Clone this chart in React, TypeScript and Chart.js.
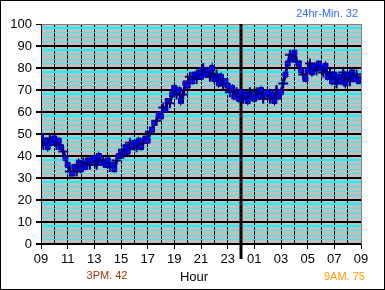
import React, { useEffect, useRef } from 'react';
import { Chart, registerables } from 'chart.js';
Chart.register(...registerables);

// readings every 10 minutes, from 09:00 to 09:00 next day
const stepMinutes = 10;
const temps = [
  49, 45, 47, 44, 48, 46,
  48, 45, 47, 44, 42, 39,
  36, 33, 32, 35, 33, 37,
  34, 37, 35, 38, 36, 38,
  39, 36, 40, 37, 38, 36,
  38, 35, 36, 34, 38, 40,
  42, 41, 44, 42, 46, 44,
  46, 44, 47, 44, 46, 48,
  47, 51, 52, 55, 56, 59,
  58, 62, 61, 65, 64, 68,
  71, 68, 70, 65, 68, 73,
  72, 76, 74, 77, 75, 78,
  76, 80, 77, 79, 76, 80,
  75, 77, 73, 76, 72, 74,
  72, 69, 71, 67, 69, 66,
  69, 66, 68, 65, 69, 67,
  66, 69, 67, 70, 66, 68,
  69, 66, 68, 65, 70, 67,
  69, 73, 77, 82, 86, 84,
  87, 83, 82, 79, 77, 75,
  79, 82, 78, 81, 79, 82,
  80, 78, 81, 76, 78, 74,
  77, 73, 76, 74, 78, 73,
  77, 74, 78, 75, 77, 74,
  75,
];
const xTickLabels = ['09', '11', '13', '15', '17', '19', '21', '23', '01', '03', '05', '07', '09'];
const yTickLabels = ['0', '10', '20', '30', '40', '50', '60', '70', '80', '90', '100'];
const minNote = '24hr-Min. 32';
const leftNote = '3PM. 42';
const axisTitle = 'Hour';
const rightNote = '9AM. 75';
const midnightHour = 15;

const FONT = "'Liberation Sans', Arial, sans-serif";

export default function App() {
  const ref = useRef<HTMLCanvasElement>(null);
  useEffect(() => {
    document.body.style.margin = '0';
    const canvas = ref.current!;
    const points = temps.map((v, i) => ({ x: (i * stepMinutes) / 60, y: v }));
    const decor = {
      id: 'decor',
      beforeDraw(chart: any) {
        const { ctx, chartArea: a } = chart;
        ctx.save();
        ctx.fillStyle = '#ffffff';
        ctx.fillRect(0, 0, chart.width, chart.height);
        ctx.fillStyle = '#c0c0c0';
        ctx.fillRect(a.left, a.top, a.right - a.left, a.bottom - a.top);
        ctx.restore();
      },
      beforeDatasetsDraw(chart: any) {
        const { ctx, chartArea: a } = chart;
        const x = Math.round(chart.scales.x.getPixelForValue(midnightHour));
        ctx.save();
        ctx.strokeStyle = '#000';
        ctx.lineWidth = 3;
        ctx.beginPath();
        ctx.moveTo(x, a.top);
        ctx.lineTo(x, a.bottom + 15);
        ctx.stroke();
        ctx.restore();
      },
      afterDraw(chart: any) {
        const { ctx } = chart;
        ctx.save();
        ctx.textBaseline = 'middle';
        ctx.font = `11px ${FONT}`;
        ctx.fillStyle = '#3366ff';
        ctx.textAlign = 'right';
        ctx.fillText(minNote, 357, 13);
        ctx.fillStyle = '#993300';
        ctx.textAlign = 'center';
        ctx.fillText(leftNote, 106, 275);
        ctx.fillStyle = '#ff9900';
        ctx.textAlign = 'left';
        ctx.fillText(rightNote, 323, 276);
        ctx.font = `13px ${FONT}`;
        ctx.fillStyle = '#000';
        ctx.textAlign = 'center';
        ctx.fillText(axisTitle, 193, 276);
        ctx.restore();
      },
    };
    const chart = new Chart(canvas, {
      type: 'line',
      data: {
        datasets: [
          {
            data: points,
            borderColor: '#000080',
            borderWidth: 3,
            pointStyle: (c: any) => (c.dataIndex % 3 === 1 ? 'cross' : 'rect'),
            pointRadius: (c: any) => (c.dataIndex % 3 === 1 ? 5 : 3.5),
            pointBackgroundColor: '#0000ff',
            pointBorderColor: '#000080',
            pointBorderWidth: (c: any) => (c.dataIndex % 3 === 1 ? 2 : 1),
            tension: 0,
          },
        ],
      },
      options: {
        animation: false,
        responsive: false,
        devicePixelRatio: 1,
        events: [],
        layout: { padding: { left: 0, right: 23, top: 23, bottom: 25 } },
        plugins: { legend: { display: false }, tooltip: { enabled: false } },
        scales: {
          x: {
            type: 'linear',
            min: 0,
            max: 24,
            ticks: {
              stepSize: 1,
              autoSkip: false,
              maxRotation: 0,
              padding: 3,
              color: '#000',
              font: { family: FONT, size: 13 },
              callback: (v: any) => (v % 2 === 0 ? xTickLabels[v / 2] : ''),
            },
            grid: {
              color: (c: any) => (c.tick && c.tick.value === 24 ? '#808080' : '#000'),
              lineWidth: 1,
              tickLength: 5,
              tickColor: (c: any) => (c.tick && c.tick.value % 2 === 0 ? '#000' : 'rgba(0,0,0,0)'),
            },
            border: { color: '#000', width: 1 },
            afterFit: (s: any) => {
              s.height = 20;
            },
          },
          y: {
            min: 0,
            max: 100,
            ticks: {
              stepSize: 2,
              autoSkip: false,
              padding: 4,
              color: '#000',
              font: { family: FONT, size: 13 },
              callback: (v: any) => (v % 10 === 0 ? yTickLabels[v / 10] : ''),
            },
            grid: {
              color: (c: any) => {
                const v = c.tick ? c.tick.value : 0;
                if (v === 100) return '#808080';
                if (v % 10 === 0) return '#000';
                if (v % 10 === 8) return '#00ffff';
                return '#40e8e8';
              },
              lineWidth: (c: any) => {
                const v = c.tick ? c.tick.value : 0;
                if (v === 100) return 1;
                if (v % 10 === 0) return 2;
                if (v % 10 === 8) return 2;
                return 1;
              },
              tickLength: 5,
              tickColor: (c: any) => (c.tick && c.tick.value % 10 === 0 ? '#000' : 'rgba(0,0,0,0)'),
            },
            border: { color: '#000', width: 1 },
            afterFit: (s: any) => {
              s.width = 40;
            },
          },
        },
      },
      plugins: [decor],
    });
    return () => chart.destroy();
  }, []);
  return (
    <div style={{ width: 385, height: 290, border: '1px solid #000', boxSizing: 'border-box', background: '#fff' }}>
      <canvas ref={ref} width={383} height={288} style={{ display: 'block' }} />
    </div>
  );
}
